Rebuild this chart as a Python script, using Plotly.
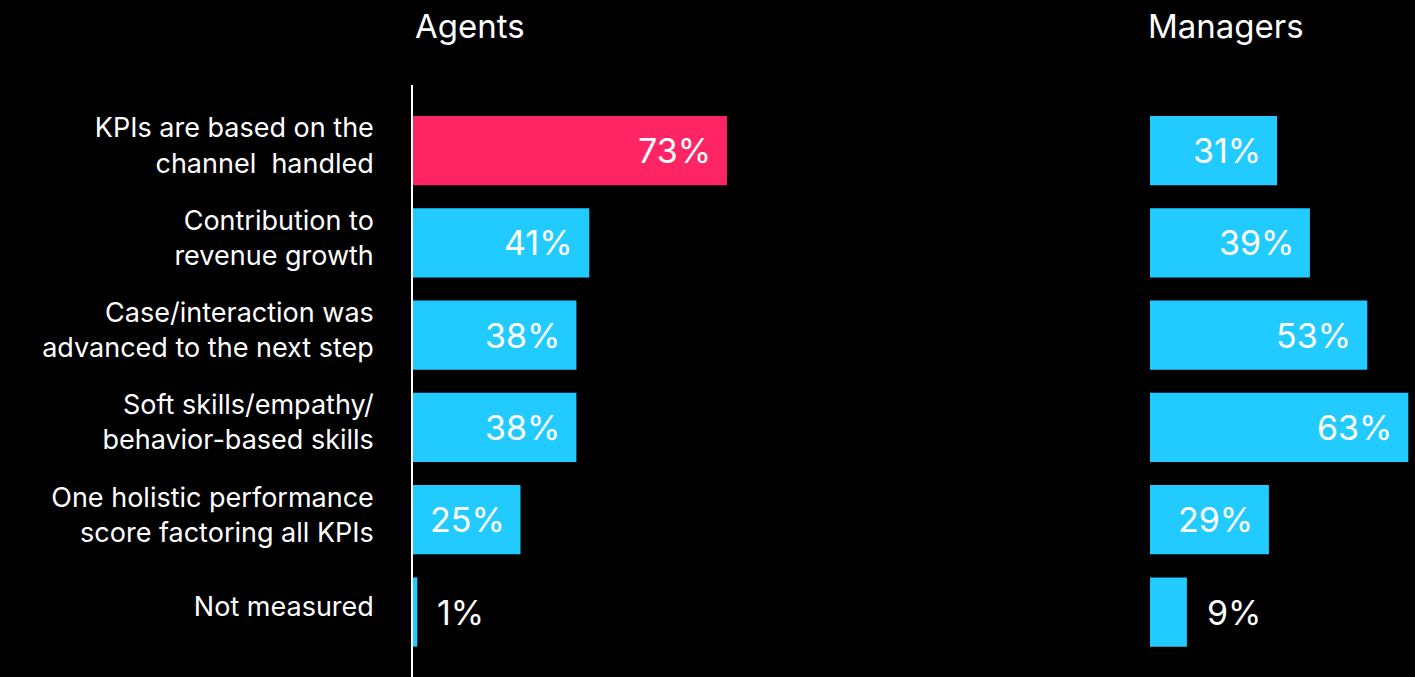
import plotly.graph_objects as go

categories = [
    "KPIs are based on the<br>channel  handled",
    "Contribution to<br>revenue growth",
    "Case/interaction was<br>advanced to the next step",
    "Soft skills/empathy/<br>behavior-based skills",
    "One holistic performance<br>score factoring all KPIs",
    "Not measured",
]
agents = [73, 41, 38, 38, 25, 1]
managers = [31, 39, 53, 63, 29, 9]
agent_colors = ["#FF2464", "#22CBFF", "#22CBFF", "#22CBFF", "#22CBFF", "#22CBFF"]
manager_colors = ["#22CBFF"] * 6
titles = ["Agents", "Managers"]

W, H = 1415, 677
FONT = "Inter"

fig = go.Figure()
fig.add_trace(go.Bar(x=agents, y=categories, orientation="h", marker=dict(color=agent_colors, line=dict(width=0)),
                     width=0.75, xaxis="x", yaxis="y", hoverinfo="skip"))
fig.add_trace(go.Bar(x=managers, y=categories, orientation="h", marker=dict(color=manager_colors, line=dict(width=0)),
                     width=0.75, xaxis="x2", yaxis="y2", hoverinfo="skip"))

annotations = []
for xr, yr, vals in [("x", "y", agents), ("x2", "y2", managers)]:
    for cat, v in zip(categories, vals):
        inside = v >= 20
        annotations.append(dict(
            x=v, y=cat, xref=xr, yref=yr, text=f"{v}%", showarrow=False,
            xanchor="right" if inside else "left", yanchor="middle",
            xshift=-14 if inside else 18,
            font=dict(family=FONT, size=34, color="white"),
        ))

annotations.append(dict(x=413 / W, y=1 - 26 / H, xref="paper", yref="paper", text=titles[0],
                        showarrow=False, xanchor="left", yanchor="middle",
                        font=dict(family=FONT, size=33, color="white")))
annotations.append(dict(x=1146 / W, y=1 - 26 / H, xref="paper", yref="paper", text=titles[1],
                        showarrow=False, xanchor="left", yanchor="middle",
                        font=dict(family=FONT, size=33, color="white")))

ydom = [0, 1 - 85 / H]
yrange = [5.704, -0.71]

fig.update_layout(
    width=W, height=H,
    margin=dict(l=0, r=0, t=0, b=0),
    paper_bgcolor="black", plot_bgcolor="black",
    showlegend=False,
    bargap=0.25,
    annotations=annotations,
    xaxis=dict(domain=[413 / W, 760 / W], range=[0, 347 / 4.3], visible=False, fixedrange=True),
    xaxis2=dict(domain=[1150 / W, 1.0], range=[0, 265 / 4.1], visible=False, fixedrange=True),
    yaxis=dict(domain=ydom, range=yrange, type="category", showline=True, linecolor="white", linewidth=1.5,
               showgrid=False, zeroline=False, ticks="", ticklabelstandoff=32, ticklabelshift=5,
               tickfont=dict(family=FONT, size=27, color="white"), anchor="x", fixedrange=True),
    yaxis2=dict(domain=ydom, range=yrange, type="category", showline=False, showgrid=False, zeroline=False,
                showticklabels=False, anchor="x2", fixedrange=True),
)

fig.write_html("out.html", config={"displayModeBar": False},
               post_script="document.body.style.margin='0';document.body.style.background='black';")
